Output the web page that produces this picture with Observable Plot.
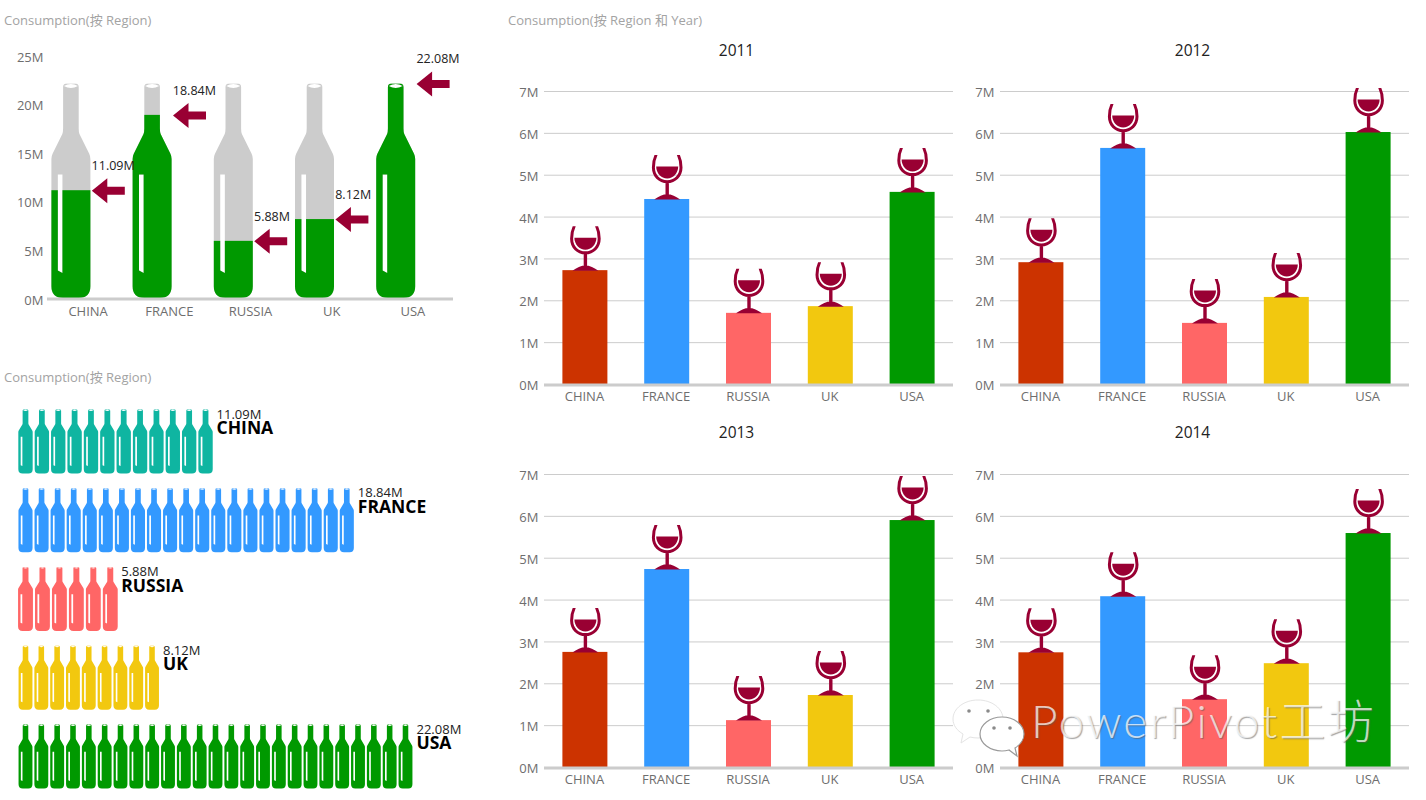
<!DOCTYPE html>
<html>
<head>
<meta charset="utf-8">
<script src="https://cdn.jsdelivr.net/npm/d3@7"></script>
<script src="https://cdn.jsdelivr.net/npm/@observablehq/plot@0.6"></script>
<style>
  html, body { margin: 0; padding: 0; background: #fff; }
  body { position: relative; width: 1426px; height: 800px; overflow: hidden;
         font-family: "Open Sans", "Noto Sans CJK SC", sans-serif; }
  .panel { position: absolute; }
  .panel svg { display: block; overflow: visible; background: transparent; }
  .heading { position: absolute; font-size: 13px; color: #a3a3a3; line-height: 16px; white-space: nowrap; }
  #mark { position: absolute; left: 1031px; top: 688px; font-size: 46px; font-weight: 300; line-height: 66px;
          color: rgba(255,255,255,.72); white-space: nowrap; letter-spacing: 2.3px;
          text-shadow: 1px 1px 1px rgba(90,90,90,.55); font-family: Lato, "Noto Sans CJK SC", sans-serif; }
  #wechat { position: absolute; left: 950px; top: 695px; }
</style>
</head>
<body>
<div class="heading" style="left:4px;top:11.500px">Consumption(按 Region)</div>
<div class="heading" style="left:4px;top:368.500px">Consumption(按 Region)</div>
<div class="heading" style="left:508px;top:11.500px">Consumption(按 Region 和 Year)</div>
<script>
const regions = ["CHINA", "FRANCE", "RUSSIA", "UK", "USA"];
const totals = [11.09, 18.84, 5.88, 8.12, 22.08];
const totalLabels = ["11.09M", "18.84M", "5.88M", "8.12M", "22.08M"];
const bottleCounts = [12, 21, 6, 9, 25];
const millionsPerBottle = [0.919, 0.902, 0.952, 0.888, 0.889];
const years = ["2011", "2012", "2013", "2014"];
const sales2011 = [2.72, 4.42, 1.70, 1.86, 4.59];
const sales2012 = [2.91, 5.64, 1.46, 2.08, 6.02];
const sales2013 = [2.75, 4.73, 1.12, 1.72, 5.90];
const sales2014 = [2.74, 4.08, 1.62, 2.48, 5.59];
const salesByYear = [sales2011, sales2012, sales2013, sales2014];
const rowColors = ["#0FB5A1", "#3399FF", "#FF6666", "#F2C80F", "#009900"];
const barColors = ["#CC3300", "#3399FF", "#FF6666", "#F2C80F", "#009900"];
const GREEN = "#009900", GREY = "#CCCCCC", WINE = "#990033", TICK = "#6e6e6e", FONT = '"Open Sans", "Noto Sans CJK SC", sans-serif';

const totalRows = regions.map((region, i) => ({region, value: totals[i], label: totalLabels[i]}));

// Bottle silhouette (clockwise outline, anticlockwise highlight and mouth so they read as holes)
function drawBottle(c, cx, yb, w, h) {
  const x0 = cx - w / 2, x1 = cx + w / 2, neck = 0.2 * w, top = yb - h;
  const r = 0.3 * w, rt = 0.09 * w, sy = yb - 0.76 * h, by = yb - 0.66 * h;
  c.moveTo(x0, yb - r);
  c.lineTo(x0, by + 0.012 * h);
  c.quadraticCurveTo(x0, by, x0 + 0.03 * w, by - 0.012 * h);
  c.lineTo(cx - neck - 0.02 * w, sy - 0.004 * h);
  c.quadraticCurveTo(cx - neck, sy - 0.015 * h, cx - neck, sy - 0.03 * h);
  c.lineTo(cx - neck, top + rt);
  c.quadraticCurveTo(cx - neck, top, cx - neck + rt, top);
  c.lineTo(cx + neck - rt, top);
  c.quadraticCurveTo(cx + neck, top, cx + neck, top + rt);
  c.lineTo(cx + neck, sy - 0.03 * h);
  c.quadraticCurveTo(cx + neck, sy - 0.015 * h, cx + neck + 0.02 * w, sy - 0.004 * h);
  c.lineTo(x1 - 0.03 * w, by - 0.012 * h);
  c.quadraticCurveTo(x1, by, x1, by + 0.012 * h);
  c.lineTo(x1, yb - r);
  c.quadraticCurveTo(x1, yb, x1 - r, yb);
  c.lineTo(x0 + r, yb);
  c.quadraticCurveTo(x0, yb, x0, yb - r);
  c.closePath();
  const hl = x0 + 0.165 * w, hr = x0 + 0.283 * w;
  c.moveTo(hl, yb - 0.576 * h);
  c.lineTo(hl, yb - 0.128 * h);
  c.lineTo(hr, yb - 0.117 * h);
  c.lineTo(hr, yb - 0.576 * h);
  c.closePath();
  const ym = yb - 0.9875 * h, rx = 0.18 * w, ry = 0.0095 * h;
  c.moveTo(cx - rx, ym);
  c.quadraticCurveTo(cx, ym + 2 * ry, cx + rx, ym);
  c.quadraticCurveTo(cx, ym - 2 * ry, cx - rx, ym);
  c.closePath();
}
const bottleSymbol = (w, h) => ({draw(c) { drawBottle(c, 0, h / 2, w, h); }});

const arrowSymbol = {draw(c) {
  c.moveTo(0, 0); c.lineTo(15.5, -12.5); c.lineTo(15.5, -4); c.lineTo(33, -4);
  c.lineTo(33, 4); c.lineTo(15.5, 4); c.lineTo(15.5, 12.5); c.closePath();
}};

const glassSymbol = {draw(c) {
  // bowl wall
  c.moveTo(-12.7, -44.5);
  c.quadraticCurveTo(-15.3, -39, -15.3, -32);
  c.bezierCurveTo(-15.3, -23, -8.5, -16.3, 0, -16.3);
  c.bezierCurveTo(8.5, -16.3, 15.3, -23, 15.3, -32);
  c.quadraticCurveTo(15.3, -39, 12.7, -44.5);
  c.lineTo(9.7, -44.5);
  c.quadraticCurveTo(12.3, -39, 12.3, -32);
  c.bezierCurveTo(12.3, -24.5, 6.8, -19.3, 0, -19.3);
  c.bezierCurveTo(-6.8, -19.3, -12.3, -24.5, -12.3, -32);
  c.quadraticCurveTo(-12.3, -39, -9.7, -44.5);
  c.closePath();
  // wine
  c.moveTo(-11, -33);
  c.lineTo(11, -33);
  c.bezierCurveTo(11, -26.5, 6, -21, 0, -21);
  c.bezierCurveTo(-6, -21, -11, -26.5, -11, -33);
  c.closePath();
  // stem
  c.moveTo(-1.7, -17);
  c.lineTo(-1.7, -3);
  c.lineTo(1.7, -3);
  c.lineTo(1.7, -17);
  c.closePath();
  // foot
  c.moveTo(13, 0);
  c.bezierCurveTo(9, -3, 4, -5.5, 0, -5.5);
  c.bezierCurveTo(-4, -5.5, -9, -3, -13, 0);
  c.closePath();
}};

// Clips a bar mark to the row of bottles, placed through the chart's own scales
let clipCount = 0;
function clipToBottles(index, scales, channels, dims, ctx, next) {
  const g = next(index, scales, channels, dims, ctx);
  const step = (dims.width - dims.marginLeft - dims.marginRight) / regions.length;
  const path = d3.path();
  for (const region of regions) {
    drawBottle(path, scales.x(region) + step / 2 - 16.7, scales.y(0), 39, scales.y(0) - scales.y(d3.max(totals)));
  }
  const NS = "http://www.w3.org/2000/svg";
  const clip = document.createElementNS(NS, "clipPath");
  clip.id = "bottle-clip-" + (++clipCount);
  const p = document.createElementNS(NS, "path");
  p.setAttribute("d", path.toString());
  clip.appendChild(p);
  g.insertBefore(clip, g.firstChild);
  g.setAttribute("clip-path", `url(#${clip.id})`);
  return g;
}

function place(node, left, top) {
  const d = document.createElement("div");
  d.className = "panel";
  d.style.left = left + "px";
  d.style.top = top + "px";
  d.appendChild(node);
  document.body.appendChild(d);
}

// Top-left: filled bottles
place(Plot.plot({
  width: 480, height: 330, marginLeft: 47, marginRight: 27, marginTop: 55, marginBottom: 32,
  style: {fontFamily: FONT, background: "transparent"},
  x: {type: "band", domain: regions, padding: 0, round: false, label: null},
  y: {domain: [0, 25], label: null},
  marks: [
    Plot.barY(totalRows, {x: "region", y: () => d3.max(totals), fill: GREY, render: clipToBottles}),
    Plot.barY(totalRows, {x: "region", y: "value", fill: GREEN, render: clipToBottles}),
    Plot.ruleY([0], {stroke: GREY, strokeWidth: 3, dy: 0.5}),
    Plot.dot(totalRows, {x: "region", y: "value", symbol: arrowSymbol, fill: WINE, stroke: "none", dx: 3.7}),
    Plot.text(totalRows, {x: "region", y: "value", text: "label", textAnchor: "start", dx: 3.5, dy: -24.5, fontSize: 12.5, fill: "#222"}),
    Plot.axisX({anchor: "bottom", tickSize: 0, tickPadding: 8.5, fontSize: 13, fill: TICK, label: null}),
    Plot.axisY({anchor: "left", ticks: [0, 5, 10, 15, 20, 25], tickSize: 0, tickPadding: 4, tickFormat: d => d + "M", fontSize: 13, fill: TICK, dy: 2, label: null})
  ]
}), 0, 0);

// Bottom-left: rows of bottles
const bottleRows = regions.flatMap((region, i) =>
  d3.range(bottleCounts[i]).map(n => ({region, m: n * millionsPerBottle[i]})));
place(Plot.plot({
  width: 480, height: 405, marginLeft: 25, marginRight: 9.75, marginTop: 46, marginBottom: 44,
  style: {fontFamily: FONT, background: "transparent"},
  x: {domain: [0, 25], axis: null},
  y: {type: "point", domain: regions, padding: 0, round: false, axis: null},
  color: {domain: regions, range: rowColors},
  marks: [
    ...regions.map((region, i) => Plot.dot(bottleRows.filter(d => d.region === region), {
      x: "m", y: "region", fill: "region", stroke: "none",
      symbol: bottleSymbol(17.85 * millionsPerBottle[i] * 0.875, 64)
    })),
    Plot.text(regions.map((region, i) => ({region, label: totalLabels[i], end: (bottleCounts[i] - 1) * millionsPerBottle[i]})), {
      x: "end", y: "region", text: "label", textAnchor: "start", dx: 11, dy: -27, fontSize: 13, fill: "#222"
    }),
    Plot.text(regions.map((region, i) => ({region, end: (bottleCounts[i] - 1) * millionsPerBottle[i]})), {
      x: "end", y: "region", text: "region", textAnchor: "start", dx: 11, dy: -13, fontSize: 17.5, fontWeight: 700, fill: "#000"
    })
  ]
}), 0, 395);

// Right: four yearly bar charts
years.forEach((year, k) => {
  const rows = regions.map((region, i) => ({region, value: salesByYear[k][i]}));
  place(Plot.plot({
    width: 470, height: 378, marginLeft: 44, marginRight: 17, marginTop: 61, marginBottom: 24,
    style: {fontFamily: FONT, background: "transparent"},
    x: {type: "band", domain: regions, padding: 0, round: false, label: null},
    y: {domain: [0, 7], label: null},
    color: {domain: regions, range: barColors},
    marks: [
      Plot.ruleY([1, 2, 3, 4, 5, 6, 7], {stroke: GREY, strokeWidth: 1}),
      Plot.barY(rows, {x: "region", y: "value", fill: "region", insetLeft: 18.4, insetRight: 18.4}),
      Plot.ruleY([0], {stroke: GREY, strokeWidth: 3, dy: 0.5}),
      Plot.dot(rows, {x: "region", y: "value", symbol: glassSymbol, fill: WINE, stroke: "none"}),
      Plot.text([year], {frameAnchor: "top", dx: -12.5, dy: k < 2 ? -47 : -48, fontSize: 15.5, fill: "#222"}),
      Plot.axisX({anchor: "bottom", tickSize: 0, tickPadding: 7.5, fontSize: 13, fill: TICK, label: null, dx: -1}),
      Plot.axisY({anchor: "left", ticks: [0, 1, 2, 3, 4, 5, 6, 7], tickSize: 0, tickPadding: 6, tickFormat: d => d + "M", fontSize: 13, fill: TICK, dy: 1.5, label: null})
    ]
  }), k % 2 ? 956 : 500, k < 2 ? 30 : 413);
});
</script>
<svg id="wechat" width="80" height="66" viewBox="0 0 80 66">
  <path d="M28 5c-14 0-25 8.500-25 19 0 6.500 4 11.500 10 15l-2 9 9-6c3 .7 5 1 8 1 14 0 25-8.500 25-19S42 5 28 5z" fill="#fff" stroke="#e4e4e4" stroke-width="1"/>
  <path d="M52 22c-12 0-22 7.500-22 17s10 17 22 17c2.500 0 4.500-.3 7-1l8 6-2-8c5-3 9-8.500 9-14 0-9.500-10-17-22-17z" fill="#fff" stroke="#9a9a9a" stroke-width="1.200"/>
  <g fill="#8a8a8a"><circle cx="19" cy="16" r="1.800"/><circle cx="38" cy="16" r="1.800"/><circle cx="44" cy="33" r="1.800"/><circle cx="60" cy="33" r="1.800"/></g>
</svg>
<div id="mark">PowerPivot工坊</div>
</body>
</html>
